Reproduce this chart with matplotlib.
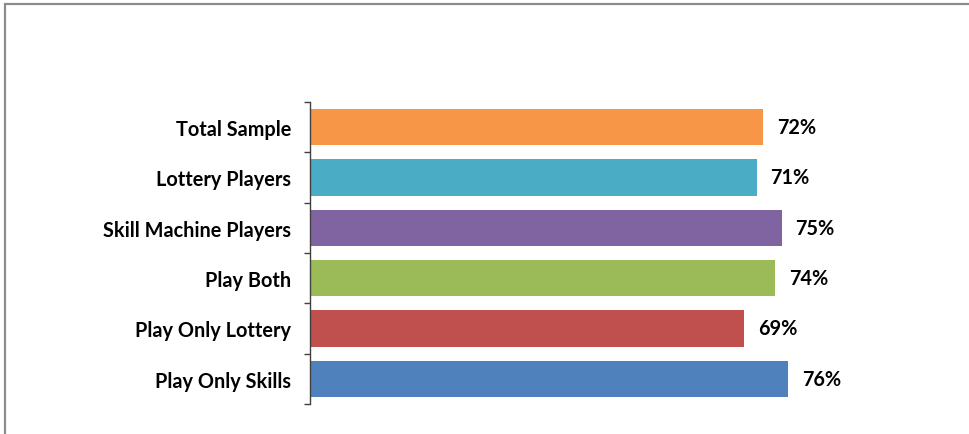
import numpy as np
import matplotlib.pyplot as plt
from matplotlib.patches import Rectangle

# categories top to bottom and their percentages
categories = ["Total Sample", "Lottery Players", "Skill Machine Players",
              "Play Both", "Play Only Lottery", "Play Only Skills"]
values = [72, 71, 75, 74, 69, 76]
colors = ["#F79646", "#4BACC6", "#8064A2", "#9BBB59", "#C0504D", "#4F81BD"]

plt.rcParams['font.family'] = ['Lato', 'DejaVu Sans']

fig = plt.figure(figsize=(9.69, 4.35), dpi=100)
# grey frame around the chart area (runs off the right and bottom edges)
fig.patches.append(Rectangle((4.5 / 969, -0.1), 1.2, 1 - 4.5 / 435 + 0.1,
                             transform=fig.transFigure, fill=False,
                             edgecolor="#8c8c8c", linewidth=1.6))

ax = fig.add_axes([310 / 969, 1 - 405 / 435, 629 / 969, 302 / 435])
y = np.arange(len(categories))
ax.barh(y, values, height=0.72, color=colors)
ax.set_xlim(0, 100)
ax.set_ylim(len(categories) - 0.5, -0.5)

for yi, v in zip(y, values):
    ax.text(v + 2.2, yi, f"{v}%", va="center", ha="left",
            fontsize=14.3, fontweight="bold", color="black")

ax.set_yticks(y)
ax.set_yticklabels(categories, fontsize=14.3, fontweight="bold")
ax.tick_params(axis="y", which="major", length=0, pad=13.5)
ax.set_yticks(np.arange(-0.5, len(categories)), minor=True)
ax.tick_params(axis="y", which="minor", length=4.3, width=1, color="#404040")
ax.set_xticks([])
for s in ["top", "right", "bottom"]:
    ax.spines[s].set_visible(False)
ax.spines["left"].set_color("#404040")
ax.spines["left"].set_linewidth(1)

fig.savefig("out.png", dpi=100)
